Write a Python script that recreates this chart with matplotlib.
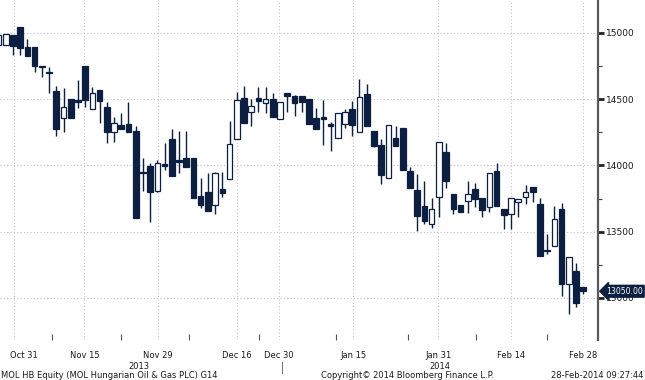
#!/usr/bin/env python3
"""Daily candlestick chart of MOL HB Equity, Bloomberg style."""
import matplotlib
matplotlib.use("Agg")
import matplotlib.pyplot as plt
import matplotlib.transforms as mtransforms

# OHLC per trading day (first candle is partly cut off on the left)
opens = [14910, 14910, 14985, 15045, 14895, 14895, 14750, 14705, 14560, 14360,
         14500, 14495, 14750, 14425, 14570, 14440, 14255, 14305, 14315, 14260,
         13950, 13995, 13805, 14010, 14200, 14040, 14055, 14055, 13770, 13800,
         13700, 13820, 13900, 14200, 14510, 14405, 14510, 14470, 14500, 14350,
         14545, 14525, 14525, 14500, 14360, 14365, 14315, 14205, 14315, 14425,
         14255, 14540, 14260, 14155, 13905, 14205, 14285, 13960, 13815, 13695,
         13560, 13760, 14100, 13785, 13700, 13730, 13820, 13755, 13685, 13960,
         13670, 13635, 13725, 13760, 13835, 13710, 13360, 13390, 13670, 13105,
         13205, 13080]
highs = [14985, 14995, 14985, 15045, 14955, 14895, 14750, 14745, 14600, 14585,
         14500, 14645, 14750, 14590, 14570, 14480, 14365, 14395, 14480, 14300,
         14055, 14020, 14040, 14170, 14275, 14260, 14260, 14055, 13905, 13945,
         13950, 13950, 14335, 14555, 14600, 14500, 14590, 14590, 14545, 14480,
         14545, 14530, 14525, 14500, 14435, 14495, 14330, 14395, 14425, 14485,
         14655, 14615, 14260, 14200, 14305, 14300, 14285, 13990, 13935, 13885,
         13755, 14175, 14170, 13785, 13700, 13885, 13865, 13755, 13945, 14020,
         13670, 13755, 13745, 13850, 13835, 13755, 13480, 13695, 13715, 13310,
         13265, 13080]
lows = [14910, 14910, 14835, 14835, 14825, 14705, 14670, 14545, 14220, 14255,
        14360, 14435, 14440, 14425, 14320, 14170, 14175, 14275, 14255, 13605,
        13805, 13575, 13800, 13965, 13920, 13945, 13990, 13755, 13680, 13655,
        13635, 13760, 13900, 14200, 14320, 14300, 14405, 14395, 14365, 14350,
        14405, 14375, 14405, 14315, 14275, 14155, 14110, 14205, 14285, 14220,
        14255, 14300, 14140, 13860, 13905, 14145, 13965, 13830, 13505, 13560,
        13530, 13610, 13830, 13635, 13650, 13640, 13685, 13610, 13650, 13695,
        13520, 13520, 13610, 13710, 13725, 13315, 13330, 13390, 13015, 12880,
        12930, 13030]
closes = [14985, 14990, 14900, 14885, 14825, 14750, 14745, 14700, 14275, 14440,
          14360, 14480, 14495, 14545, 14485, 14255, 14320, 14275, 14255, 13605,
          13945, 13800, 14020, 13995, 13920, 14025, 13990, 13755, 13700, 13655,
          13945, 13790, 14160, 14495, 14320, 14450, 14485, 14500, 14365, 14480,
          14525, 14470, 14480, 14315, 14275, 14350, 14300, 14395, 14405, 14305,
          14515, 14300, 14145, 13930, 14305, 14145, 13965, 13830, 13620, 13580,
          13670, 14175, 13885, 13670, 13650, 13785, 13745, 13665, 13945, 13695,
          13625, 13755, 13745, 13800, 13800, 13315, 13355, 13595, 13105, 13310,
          12960, 13050]

date_labels = ["Oct 31", "Nov 15", "Nov 29", "Dec 16", "Dec 30",
               "Jan 15", "Jan 31", "Feb 14", "Feb 28"]
year_labels = ["2013", "2014"]
y_ticks = [13000, 13500, 14000, 14500, 15000]
last_price = 13050.00

NAVY = "#0c1f40"

# layout: candle index of each date label and of the year captions
date_tick_pos = [2.1, 11.9, 22.1, 33.0, 38.8, 49.1, 60.9, 71.0, 81.0]
minor_x_pos = [7.35, 17.0, 26.4, 36.1, 46.7, 56.7, 66.1, 76.0]
year_pos = [19.5, 61.2]
year_split = 39.3


def draw_candles(ax):
    """Wicks, then bodies: hollow when up, filled navy when down."""
    idx = list(range(len(opens)))
    ax.vlines(idx, lows, highs, color=NAVY, linewidth=1.0, zorder=2)
    for i in idx:
        o, c = opens[i], closes[i]
        up = c > o
        h = abs(c - o)
        if h < 8:
            h = 8
            o = min(o, c) - 4 if not up else o
        ax.bar(i, h, bottom=min(o, c), width=0.78,
               color="white" if up else NAVY, edgecolor=NAVY,
               linewidth=0.9, zorder=3)


def main():
    fig = plt.figure(figsize=(6.45, 3.8), dpi=100)
    ax = fig.add_axes([0, 40 / 380, 598 / 645, 340 / 380])

    draw_candles(ax)

    ax.set_xlim(0.2, 83.04)
    ax.set_ylim(12682, 15249)

    # grid
    for y in y_ticks:
        ax.axhline(y, color="#c4c4c4", linewidth=0.8, linestyle=(0, (1, 2)), zorder=1)
    for x in date_tick_pos:
        ax.axvline(x, color="#c4c4c4", linewidth=0.8, linestyle=(0, (1, 2)), zorder=1)

    # right price axis
    for side in ["left", "top", "bottom"]:
        ax.spines[side].set_visible(False)
    ax.spines["right"].set_color("#5a5a5a")
    ax.spines["right"].set_linewidth(1.6)
    ax.yaxis.tick_right()
    ax.set_yticks(y_ticks, [str(v) for v in y_ticks])
    ax.set_yticks([13250, 13750, 14250, 14750], minor=True)
    ax.tick_params(axis="y", which="major", length=4, width=2.0, color="#222222",
                   labelsize=6.5, labelcolor="#1a1a1a", pad=2)
    ax.tick_params(axis="y", which="minor", length=3, width=0.8, color="#444444")

    # date axis
    ax.set_xticks(date_tick_pos, date_labels)
    ax.set_xticks(minor_x_pos, minor=True)
    ax.tick_params(axis="x", which="major", length=0, labelsize=6,
                   labelcolor="#1a1a1a", pad=8)
    ax.tick_params(axis="x", which="minor", direction="in", length=4,
                   width=0.8, color="#555555")
    first = ax.get_xticklabels()[0]
    first.set_horizontalalignment("left")
    first.set_transform(first.get_transform() + mtransforms.ScaledTranslation(
        -4 / 100, 0, fig.dpi_scale_trans))

    trans = mtransforms.blended_transform_factory(ax.transData, ax.transAxes)
    for x, lab in zip(year_pos, year_labels):
        ax.text(x, -0.078, lab, transform=trans, ha="center", va="center",
                fontsize=6, color="#1a1a1a", clip_on=False)
    ax.plot([year_split, year_split], [-0.066, -0.097], transform=trans,
            color="#777777", linewidth=0.8, clip_on=False)

    # last price flag
    ytrans = mtransforms.blended_transform_factory(ax.transAxes, ax.transData)
    ax.text(1.0, last_price, f"{last_price:.2f}", transform=ytrans + mtransforms.ScaledTranslation(
        8 / 100, 0, fig.dpi_scale_trans), ha="left", va="center", fontsize=5.6,
            color="white", zorder=5, clip_on=False,
            bbox=dict(boxstyle="larrow,pad=0.18", fc=NAVY, ec=NAVY))

    # footer
    fig.text(0.002, 5 / 380, "MOL HB Equity (MOL Hungarian Oil & Gas PLC) G14",
             ha="left", va="center", fontsize=6, color="#1a1a1a")
    fig.text(408 / 645, 5 / 380, "Copyright\u00a9 2014 Bloomberg Finance L.P.",
             ha="center", va="center", fontsize=6, color="#1a1a1a")
    fig.text(0.997, 5 / 380, "28-Feb-2014 09:27:44",
             ha="right", va="center", fontsize=6, color="#1a1a1a")

    fig.savefig("out.png", dpi=100)


if __name__ == "__main__":
    main()
